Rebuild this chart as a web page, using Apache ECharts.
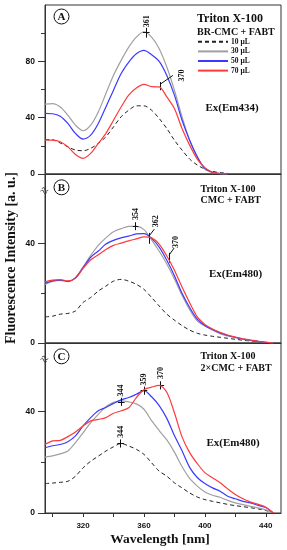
<!DOCTYPE html>
<html><head><meta charset="utf-8">
<script src="https://cdn.jsdelivr.net/npm/echarts@6/dist/echarts.min.js"></script>
<style>html,body{margin:0;padding:0;background:#fff}#c{width:287px;height:550px}</style>
</head><body><div id="c"></div>
<script>
// ---- data ----
const seriesNames = ['10 μL', '30 μL', '50 μL', '70 μL'];
const wavelengthsA = [295,300,305,310,315,320,325,330,335,340,345,350,355,360,365,370,375,380,385,390,395,400,405,410,415];
const wavelengthsBC = [295,300,305,310,315,320,325,330,335,340,345,350,355,360,365,370,375,380,385,390,395,400,405,410,415,420,425,430,435,440,445];

const aDash = [24.5,24.3,22,19.3,17,16.5,18.2,21.7,26.4,33.5,40.6,45.3,48.4,48.4,45.3,39.4,32.3,24,17,10.6,6.4,3.5,1.8,1,0.5];
const aGray = [49.6,50,47.6,41.8,34.7,30.7,34.7,44.1,57.1,70.1,80.7,90.1,97.2,101,97.2,89,76,59.5,40.6,24,12.3,3.5,1,0.3,0];
const aBlue = [43,42.8,41,35.9,28.8,24.8,27.6,35.9,47.6,59.5,71.3,79.5,85.4,87.8,84.7,80,70,56,38.2,24,12.3,4,1.2,0.3,0];
const aRed  = [24,24,22.9,19.3,13.9,11.1,14.6,21.7,28.8,38.2,47.6,56,61.1,63.7,62,61.8,54.7,46.5,32.3,20.5,10.6,4.5,1.2,0.3,0];

const bDash = [10.5,10.8,11.6,11.9,12.9,16.3,18.3,20.9,22.9,24.9,25.6,24.9,23.6,21.6,18.3,14.9,11.6,9.2,7,5.2,3.9,3.2,2.7,2.3,1.9,1.5,1.1,0.8,0.5,0.2,0];
const bGray = [23.6,24.8,25.2,24.7,26.3,30.5,35.3,39.3,42.3,44.8,46,46.9,46.9,45.6,41.5,36.9,31.8,25.8,19.2,13.4,8.9,6.8,5.2,3.7,2.8,2.1,1.5,1,0.6,0.3,0];
const bBlue = [24,25,25.3,24.8,26.2,30.3,34.5,37,39.8,41.3,42.3,43,43.9,44,42.1,38.6,33.3,27.1,20,14.3,9.6,7,5.4,4,3,2.3,1.6,1.1,0.7,0.3,0];
const bRed  = [24.6,25.3,25.5,25,26,30,33.5,35.5,37.6,39.3,40.2,41.1,41.9,42.7,42.3,39.8,35,29.3,22.5,16.2,10.5,7.5,5.6,4.3,3.2,2.4,1.7,1.2,0.7,0.3,0];

const cDash = [11.6,11.8,12.1,12.5,14.5,17.8,20.4,22.4,24.4,26.1,27.4,26.4,25.1,23.1,19.8,16.5,14.5,11.9,9.9,7.9,6.3,5.3,4.6,4,3.4,2.9,2.5,2.1,1.6,1,0];
const cGray = [22,22.5,23.3,24.4,27.7,31.6,35.6,38.9,41.9,43.6,44.2,43.8,43,40.9,36.4,32.5,28.8,24,18.3,13.6,10.6,8.3,7,6.2,5,4,3.3,2.6,2,1.3,0];
const cBlue = [25.7,26.5,27,28.1,30.4,34.3,37.6,40.3,41.6,43.2,44.6,45.5,46.8,48.2,45.8,42.3,37.3,30.5,24.5,18,14,11.6,9.9,8.6,6.6,5.6,4.6,4,3,2.2,0];
const cRed  = [27,28.4,28.6,30.1,31.9,34.3,36.3,36.9,37.6,39.3,40.3,41.5,45.5,48.6,49.6,50.3,47.6,39.5,30,23.8,19.5,15.9,13.9,11.9,9.5,7.3,5.6,4.3,3.4,2.3,0];

const xMin = 295, xMax = 450;
const yMax = [120, 68, 67];
const yMajorA = [0, 40, 80], yMinorA = [20, 60, 100];
const yMajorBC = [0, 40], yMinorBC = [20];
const xTickValues = [300,320,340,360,380,400,420,440];
const xLabelValues = [320,360,400,440];

// ---- styles ----
const SERIF = 'Liberation Serif';
const SANS = 'Liberation Sans';
const colors = ['#222222', '#a0a0a0', '#3a3aff', '#ff3a3a'];
const lineTypes = [[4, 3], 'solid', 'solid', 'solid'];

function zip(xs, ys) { return xs.map((x, i) => [x, ys[i]]); }
function cross(x, y, dx, dy) {
  return [[{coord: [x - dx, y]}, {coord: [x + dx, y]}], [{coord: [x, y - dy]}, {coord: [x, y + dy]}]];
}
function seg(x1, y1, x2, y2) { return [[{coord: [x1, y1]}, {coord: [x2, y2]}]]; }
function mLine(data) {
  return {silent: true, symbol: ['none', 'none'], animation: false, label: {show: false},
    lineStyle: {color: '#111', width: 1, type: 'solid'}, emphasis: {disabled: true}, data: data};
}
function mPoint(items) {
  return {silent: true, symbol: 'circle', symbolSize: 0, animation: false,
    label: {show: true, position: 'inside', rotate: 90, color: '#111', fontSize: 8, fontWeight: 'bold',
      fontFamily: SERIF, formatter: p => p.name},
    data: items.map(it => ({name: it[0], coord: [it[1], it[2]]}))};
}

const panels = [
  {xs: wavelengthsA, ys: [aDash, aGray, aBlue, aRed],
   marks: {1: {line: cross(361.5, 100.3, 2.2, 3.5), pts: [['361', 361.8, 108.5]]},
           3: {line: [].concat(seg(371, 59.5, 371, 65.3), seg(371, 64, 379, 70)), pts: [['370', 384.8, 70]]}}},
  {xs: wavelengthsBC, ys: [bDash, bGray, bBlue, bRed],
   marks: {1: {line: cross(354.5, 47, 1.8, 1.6), pts: [['354', 354.5, 51.9]]},
           3: {line: [].concat(seg(363.3, 39.9, 363.3, 44.3), seg(363.3, 43, 366.8, 45.8),
                               seg(376.4, 32.3, 376.4, 36.3), seg(376.4, 35.3, 379.8, 38.2)),
               pts: [['362', 367.9, 49], ['370', 381, 40.6]]}}},
  {xs: wavelengthsBC, ys: [cDash, cGray, cBlue, cRed],
   marks: {0: {line: cross(344.7, 27.4, 2.2, 1.6), pts: [['344', 344.7, 32]]},
           2: {line: [].concat(cross(345.1, 43.8, 2.2, 1.6), cross(360, 48.2, 2.2, 1.6)),
               pts: [['344', 345.1, 48.3], ['359', 360, 52.6]]},
           3: {line: cross(371, 50.3, 2.2, 1.6), pts: [['370', 371, 55.2]]}}}
];

const gridTops = [5, 174, 343], gridHeights = [169, 169, 170];
const grids = gridTops.map((t, i) => ({left: 45, top: t, width: 236, height: gridHeights[i],
  show: true, borderColor: '#333', borderWidth: 1, backgroundColor: 'transparent'}));

const xAxes = [0, 1, 2].map(i => ({
  type: 'value', gridIndex: i, min: xMin, max: xMax, position: 'bottom',
  splitLine: {show: false},
  axisLine: {show: true, lineStyle: {color: '#333', width: 1}},
  axisTick: i === 2 ? {show: true, customValues: xTickValues, length: 4, lineStyle: {color: '#333'}} : {show: false},
  axisLabel: i === 2 ? {show: true, customValues: xLabelValues, fontFamily: SANS, fontWeight: 'bold',
    fontSize: 8, color: '#111', margin: 9} : {show: false}
}));

const yAxes = [];
[0, 1, 2].forEach(i => {
  const major = i === 0 ? yMajorA : yMajorBC;
  const minor = i === 0 ? yMinorA : yMinorBC;
  yAxes.push({type: 'value', gridIndex: i, min: 0, max: yMax[i], position: 'left',
    splitLine: {show: false},
    axisLine: {show: true, lineStyle: {color: '#333', width: 1}},
    axisTick: {show: true, customValues: major, length: 7, lineStyle: {color: '#333'}},
    axisLabel: {show: true, customValues: major, fontFamily: SANS, fontWeight: 'bold', fontSize: 8.5,
      color: '#111', margin: 10}});
  yAxes.push({type: 'value', gridIndex: i, min: 0, max: yMax[i], position: 'left', offset: 0,
    splitLine: {show: false}, axisLine: {show: false, onZero: false},
    axisTick: {show: true, customValues: minor, length: 4, lineStyle: {color: '#333'}},
    axisLabel: {show: false}});
});

const series = [];
panels.forEach((p, gi) => {
  p.ys.forEach((vals, si) => {
    const s = {
      name: seriesNames[si], type: 'line', xAxisIndex: gi, yAxisIndex: gi * 2,
      data: zip(p.xs, vals), symbol: 'none', smooth: 0.3, animation: false,
      lineStyle: {color: colors[si], width: si === 0 ? 1 : 1.2, type: lineTypes[si]},
      itemStyle: {color: colors[si]}, z: 2 + si
    };
    const m = p.marks[si];
    if (m) { s.markLine = mLine(m.line); s.markPoint = mPoint(m.pts); }
    series.push(s);
  });
});

function txt(x, y, text, size, align, extra) {
  return Object.assign({type: 'text', x: x, y: y, silent: true,
    style: {text: text, fontSize: size, fontFamily: SERIF, fontWeight: 'bold', fill: '#111',
      align: align || 'left', verticalAlign: 'middle'}}, extra || {});
}
function circ(cx, cy, letter) {
  return [{type: 'circle', silent: true, shape: {cx: cx, cy: cy, r: 7.5}, style: {fill: 'none', stroke: '#111', lineWidth: 1}},
          txt(cx, cy + 0.5, letter, 11, 'center')];
}
function brk(x, y) {
  return {type: 'text', x: x, y: y, silent: true, rotation: -Math.PI / 6,
    style: {text: '≈', fontSize: 14, fontFamily: SERIF, fill: '#333', align: 'center', verticalAlign: 'middle'}};
}

const graphic = [].concat(
  circ(61.5, 16.5, 'A'), circ(61.5, 187.3, 'B'), circ(61.5, 356.3, 'C'),
  [txt(197, 18.5, 'Triton X-100', 12),
   txt(197, 32, 'BR-CMC + FABT', 10),
   txt(232, 108, 'Ex(Em434)', 11, 'center'),
   txt(200.5, 189, 'Triton X-100', 10),
   txt(200.5, 200, 'CMC + FABT', 10),
   txt(235.5, 274, 'Ex(Em480)', 11, 'center'),
   txt(200.5, 356.5, 'Triton X-100', 10),
   txt(200.5, 368, '2×CMC + FABT', 10),
   txt(233, 443, 'Ex(Em480)', 11, 'center'),
   txt(160, 540, 'Wavelength [nm]', 13.5, 'center'),
   txt(11, 258, 'Fluorescence Intensity [a. u.]', 14, 'center', {rotation: Math.PI / 2}),
   brk(44, 191.5), brk(44, 360)]
);

const chart = echarts.init(document.getElementById('c'), null, {renderer: 'canvas'});
chart.setOption({
  animation: false,
  backgroundColor: '#ffffff',
  grid: grids, xAxis: xAxes, yAxis: yAxes, series: series,
  legend: {data: seriesNames, orient: 'vertical', left: 197, top: 37, padding: 0,
    itemWidth: 30, itemHeight: 12, itemGap: 0, selectedMode: false,
    itemStyle: {opacity: 0, borderWidth: 0},
    textStyle: {fontFamily: SERIF, fontWeight: 'bold', fontSize: 7.5, color: '#111', padding: [0, 0, 0, -2]}},
  graphic: graphic
});
</script></body></html>
